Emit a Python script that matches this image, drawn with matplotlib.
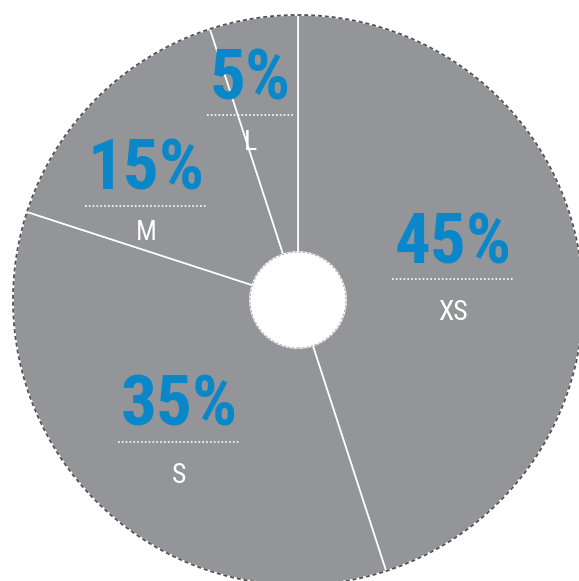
import matplotlib
matplotlib.use("Agg")
import matplotlib.pyplot as plt
from matplotlib import font_manager as fm
from matplotlib.patches import Circle

# Size split of the range
sizes = ["XS", "S", "M", "L"]
shares = [45, 35, 15, 5]
pct_labels = [f"{v}%" for v in shares]

W, H = 579, 581
fig = plt.figure(figsize=(W / 100, H / 100), dpi=100)
ax = fig.add_axes([0, 0, 1, 1])

cx, cy = 298, 281
R, r_hole = 285, 48
grey = "#949599"
blue = "#0a87c9"


def pick_family(candidates):
    for fam in candidates:
        try:
            fm.findfont(fm.FontProperties(family=fam), fallback_to_default=False)
            return fam
        except ValueError:
            continue
    return "DejaVu Sans"


narrow = pick_family(["Liberation Sans Narrow", "Roboto Condensed",
                      "Open Sans Condensed", "DejaVu Sans Condensed",
                      "Open Sans", "Roboto"])
font_kw = dict(family=[narrow, "DejaVu Sans"], stretch="condensed")

ax.pie(shares, center=(cx, cy), radius=R, startangle=90, counterclock=False,
       colors=[grey] * len(shares),
       wedgeprops=dict(width=R - r_hole, edgecolor="white", linewidth=1.2),
       frame=True)

# dashed outlines of the ring
ax.add_patch(Circle((cx, cy), R, fill=False, ec="#505050", lw=1.3,
                    ls=(0, (2.2, 1.6)), zorder=5))
ax.add_patch(Circle((cx, cy), r_hole, fill=False, ec="#b0b0b0", lw=0.8,
                    ls=(0, (2.2, 1.6)), zorder=5))

ax.set_xlim(0, W)
ax.set_ylim(0, H)
ax.set_aspect("equal")
ax.axis("off")

# label anchors: (number x, number baseline, rule y, name baseline)
anchors = {
    "XS": (453, 318, 302, 261),
    "S": (179, 155, 139, 98),
    "M": (146, 392, 375, 341),
    "L": (250, 482, 466, 431),
}

# fit the number size so that "45%" spans about 117 px
probe = fig.text(0, 0, "45%", fontsize=49, fontweight="bold", **font_kw)
fig.canvas.draw()
w = probe.get_window_extent().width
probe.remove()
num_size = min(54, 49 * 117 / w)

num_texts = []
for name, pct in zip(sizes, pct_labels):
    x, yb, yr, yn = anchors[name]
    t = ax.text(x, yb, pct, ha="center", va="baseline", color=blue,
                fontsize=num_size, fontweight="bold", zorder=6, **font_kw)
    ax.text(x, yn, name, ha="center", va="baseline", color="white",
            fontsize=20, zorder=6, **font_kw)
    num_texts.append((t, yr))

fig.canvas.draw()
inv = ax.transData.inverted()
for t, yr in num_texts:
    bb = t.get_window_extent()
    (x0, _), (x1, _) = inv.transform([(bb.x0, bb.y0), (bb.x1, bb.y1)])
    ax.plot([x0 - 2, x1 + 2], [yr, yr], color="white", lw=1.2,
            ls=(0, (1, 1.3)), zorder=6)

fig.savefig("out.png", dpi=100)
